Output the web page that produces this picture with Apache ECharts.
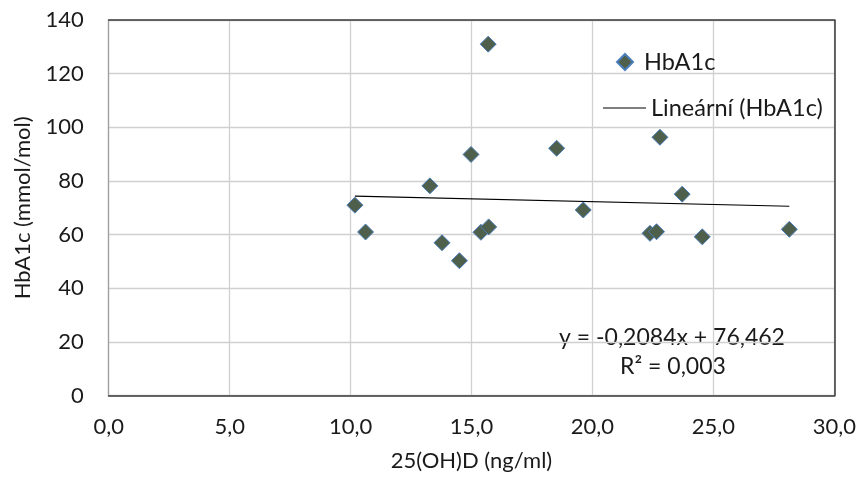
<!DOCTYPE html>
<html>
<head>
<meta charset="utf-8">
<script src="https://cdn.jsdelivr.net/npm/echarts@6/dist/echarts.min.js"></script>
<style>
  html, body { margin: 0; padding: 0; background: #fff; }
  #chart { width: 866px; height: 477px; }
</style>
</head>
<body>
<div id="chart"></div>
<script>
// 25(OH)D (ng/ml) per patient
const vitaminD = [15.69, 14.98, 18.52, 13.28, 10.18, 10.62, 13.78, 14.50, 15.39, 15.71, 19.62, 22.79, 23.71, 22.38, 22.65, 24.54, 28.14];
// HbA1c (mmol/mol) per patient
const hba1c = [131.0, 89.9, 92.2, 78.2, 71.0, 61.0, 57.0, 50.3, 60.9, 62.9, 69.2, 96.3, 75.1, 60.5, 61.1, 59.2, 62.0];
// linear fit stated on the chart
const slope = -0.2084;
const intercept = 76.462;
const rSquared = 0.003;
// axis ticks
const xTicks = [0, 5, 10, 15, 20, 25, 30];
const yTicks = [0, 20, 40, 60, 80, 100, 120, 140];

const FONT = 'Lato, "Open Sans", sans-serif';
const TXT = '#1a1a1a';
const comma = (v, d) => v.toFixed(d).replace('.', ',');

const points = vitaminD.map((x, i) => [x, hba1c[i]]);
const xMin = Math.min(...vitaminD);
const xMax = Math.max(...vitaminD);
const trend = [xMin, xMax].map(x => [x, intercept + slope * x]);

const eqText = 'y = ' + comma(slope, 4) + 'x + ' + comma(intercept, 3);
const r2Text = 'R\u00B2 = ' + comma(rSquared, 3);

const chart = echarts.init(document.getElementById('chart'), null, { renderer: 'canvas' });

chart.setOption({
  animation: false,
  textStyle: { fontFamily: FONT },
  grid: { left: 108.7, right: 31.7, top: 20, bottom: 81.3 },
  legend: [
    {
      data: [{ name: 'HbA1c', icon: 'diamond' }],
      left: 611, top: 45,
      itemWidth: 16, itemHeight: 16,
      textStyle: { fontFamily: FONT, fontSize: 23.5, color: TXT, padding: [0, 0, 0, 6] }
    },
    {
      data: [{ name: 'Lineární (HbA1c)', icon: 'rect' }],
      left: 598, top: 91,
      itemWidth: 43, itemHeight: 1.2,
      textStyle: { fontFamily: FONT, fontSize: 23.5, color: TXT }
    }
  ],
  xAxis: [
    {
      type: 'value', min: xTicks[0], max: xTicks[xTicks.length - 1], interval: 5,
      name: '25(OH)D (ng/ml)', nameLocation: 'middle', nameGap: 54,
      nameTextStyle: { fontFamily: FONT, fontSize: 22, color: TXT },
      axisLine: { show: true, lineStyle: { color: '#3a3a3a', width: 1.5 } },
      axisTick: { show: false },
      axisLabel: { formatter: v => comma(v, 1), fontSize: 22, color: TXT, margin: 20, fontFamily: FONT },
      splitLine: { show: true, lineStyle: { color: '#d0d0d0', width: 1.3 } }
    },
    {
      type: 'value', position: 'top', min: 0, max: 30, interval: 5,
      axisLine: { show: true, onZero: false, lineStyle: { color: '#3a3a3a', width: 1.5 } },
      axisTick: { show: false }, axisLabel: { show: false }, splitLine: { show: false }
    }
  ],
  yAxis: [
    {
      type: 'value', min: yTicks[0], max: yTicks[yTicks.length - 1], interval: 20,
      name: 'HbA1c (mmol/mol)', nameLocation: 'middle', nameGap: 75, nameRotate: 90,
      nameTextStyle: { fontFamily: FONT, fontSize: 22, color: TXT },
      axisLine: { show: true, lineStyle: { color: '#a0a0a0', width: 1.3 } },
      axisTick: { show: false },
      axisLabel: { fontSize: 22, color: TXT, margin: 25, fontFamily: FONT },
      splitLine: { show: true, lineStyle: { color: '#d0d0d0', width: 1.3 } }
    },
    {
      type: 'value', position: 'right', min: 0, max: 140, interval: 20,
      axisLine: { show: true, onZero: false, lineStyle: { color: '#3a3a3a', width: 1.5 } },
      axisTick: { show: false }, axisLabel: { show: false }, splitLine: { show: false }
    }
  ],
  series: [
    {
      name: 'HbA1c',
      type: 'scatter',
      symbol: 'diamond',
      symbolSize: 16,
      itemStyle: { color: '#4e5f4b', borderColor: '#4a7ebb', borderWidth: 1, opacity: 1 },
      data: points,
      z: 3
    },
    {
      name: 'Lineární (HbA1c)',
      type: 'line',
      symbol: 'none',
      lineStyle: { color: '#000', width: 1.2 },
      itemStyle: { color: '#000' },
      data: trend,
      z: 2
    }
  ],
  graphic: [
    {
      type: 'text', x: 672, y: 338,
      style: { text: eqText, font: '23px ' + FONT, fill: TXT, align: 'center', verticalAlign: 'middle' }
    },
    {
      type: 'text', x: 673, y: 367,
      style: { text: r2Text, font: '23px ' + FONT, fill: TXT, align: 'center', verticalAlign: 'middle' }
    }
  ]
});
</script>
</body>
</html>
